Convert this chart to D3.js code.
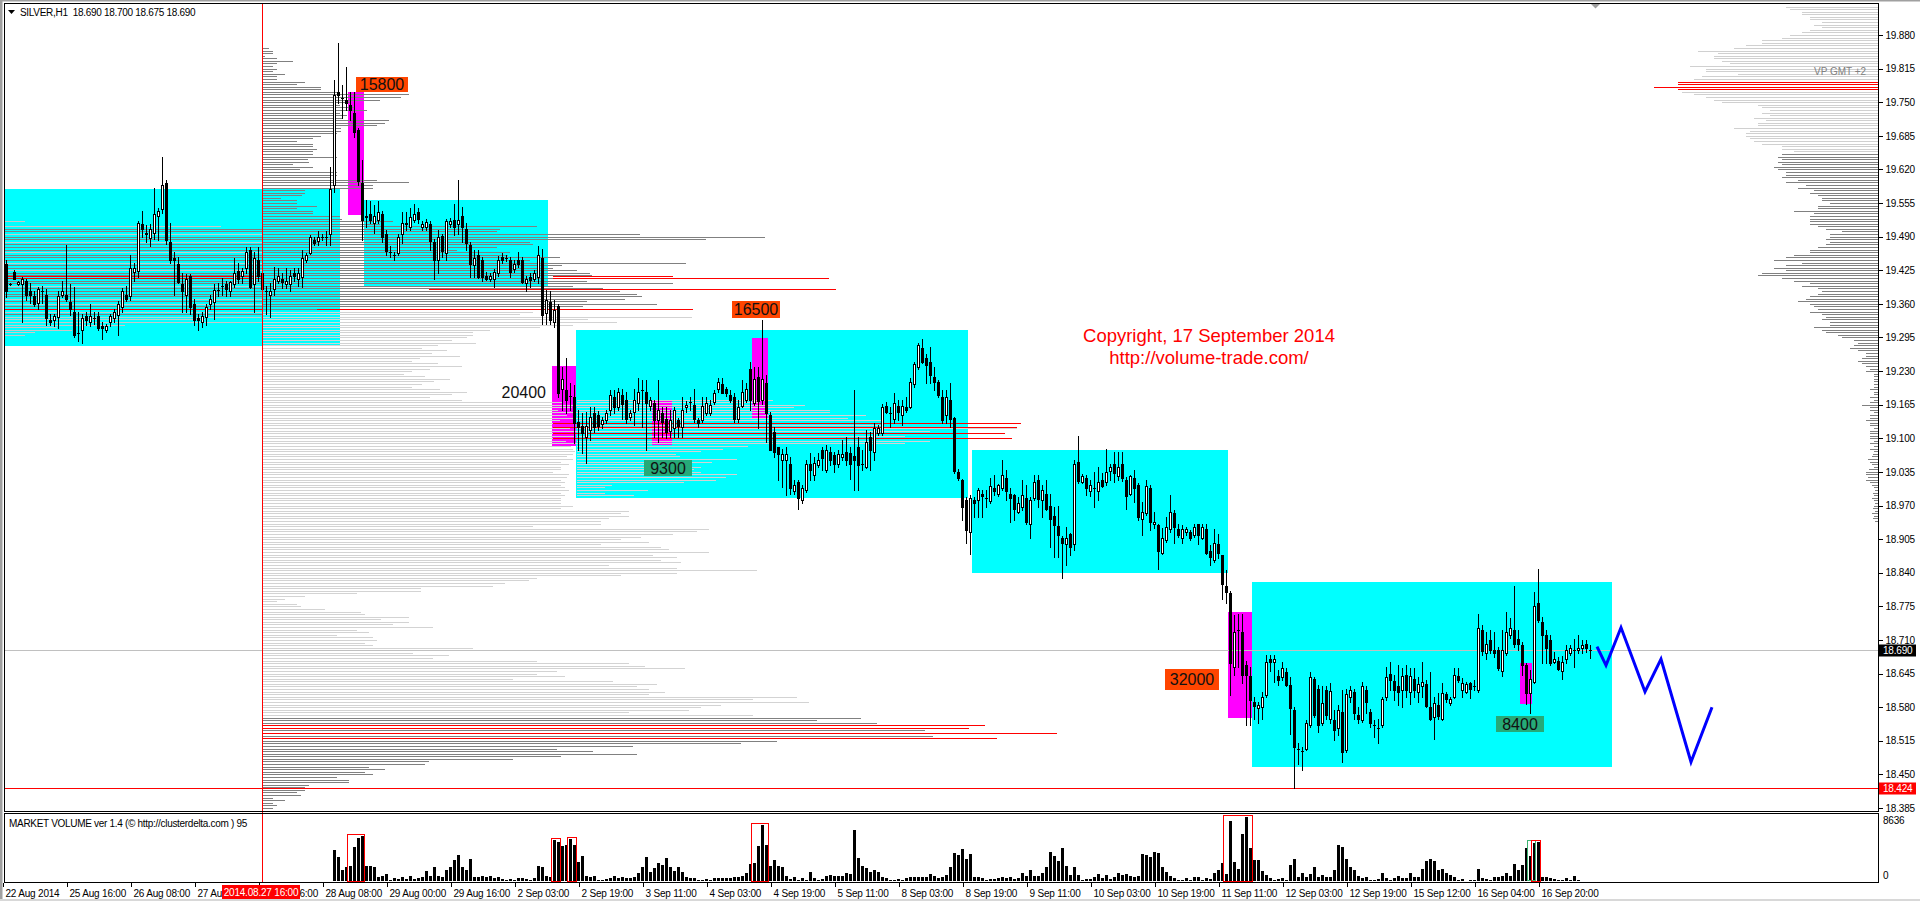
<!DOCTYPE html>
<html><head><meta charset="utf-8">
<script src="https://cdn.jsdelivr.net/npm/d3@7"></script>
<style>
html,body{margin:0;padding:0;background:#fff;overflow:hidden}
svg{display:block}
text{font-family:"Liberation Sans",Arial,sans-serif}
</style></head><body>
<svg id="c" width="1920" height="901"></svg>
<script>
// ---------------- DATA ----------------
const header = "SILVER,H1  18.690 18.700 18.675 18.690";
const indicatorName = "MARKET VOLUME ver 1.4 (\u00A9 http://clusterdelta.com ) 95";
const copyright = ["Copyright, 17 September 2014", "http://volume-trade.com/"];
const markerLabel = "2014.08.27 16:00";
const markerBar = 64;
const supportLevel = 18.424;
const lastPrice = 18.690;
const volMaxLabel = 8636;

// [open, high, low, close] hourly candles
const candles = [
[19.438,19.445,19.374,19.384],[19.398,19.400,19.396,19.398],[19.422,19.425,19.409,19.409],[19.398,19.405,19.396,19.403],
[19.398,19.412,19.324,19.409],[19.404,19.409,19.367,19.378],[19.385,19.400,19.362,19.378],[19.375,19.384,19.355,19.359],
[19.362,19.393,19.350,19.388],[19.384,19.395,19.361,19.384],[19.378,19.388,19.319,19.333],[19.329,19.340,19.320,19.324],
[19.328,19.340,19.318,19.337],[19.335,19.385,19.314,19.375],[19.378,19.404,19.374,19.385],[19.378,19.474,19.365,19.369],
[19.363,19.398,19.339,19.350],[19.344,19.393,19.296,19.299],[19.303,19.344,19.289,19.303],[19.310,19.340,19.284,19.333],
[19.337,19.345,19.320,19.328],[19.325,19.359,19.318,19.337],[19.332,19.345,19.322,19.332],[19.337,19.345,19.310,19.314],
[19.318,19.325,19.293,19.314],[19.310,19.322,19.305,19.318],[19.325,19.340,19.318,19.337],[19.333,19.350,19.325,19.344],
[19.339,19.365,19.299,19.359],[19.353,19.390,19.345,19.385],[19.378,19.395,19.365,19.369],[19.375,19.455,19.368,19.429],
[19.422,19.440,19.405,19.429],[19.424,19.520,19.412,19.517],[19.514,19.540,19.490,19.504],[19.498,19.512,19.480,19.495],
[19.488,19.515,19.472,19.504],[19.498,19.584,19.485,19.533],[19.530,19.545,19.483,19.540],[19.543,19.645,19.535,19.589],
[19.593,19.600,19.475,19.484],[19.479,19.516,19.440,19.444],[19.449,19.460,19.378,19.444],[19.438,19.450,19.400,19.403],
[19.398,19.420,19.344,19.384],[19.378,19.418,19.344,19.409],[19.414,19.418,19.340,19.353],[19.359,19.370,19.320,19.328],
[19.333,19.340,19.310,19.328],[19.325,19.345,19.315,19.337],[19.335,19.360,19.320,19.353],[19.359,19.378,19.350,19.369],
[19.363,19.398,19.330,19.386],[19.386,19.400,19.375,19.386],[19.395,19.410,19.378,19.395],[19.398,19.405,19.375,19.388],
[19.385,19.405,19.375,19.403],[19.398,19.448,19.392,19.419],[19.424,19.440,19.400,19.409],[19.413,19.430,19.400,19.424],
[19.429,19.470,19.420,19.460],[19.464,19.470,19.390,19.393],[19.398,19.460,19.344,19.448],[19.445,19.470,19.405,19.413],
[19.419,19.425,19.344,19.388],[19.384,19.395,19.340,19.384],[19.378,19.400,19.335,19.384],[19.388,19.432,19.378,19.409],
[19.404,19.430,19.400,19.414],[19.409,19.420,19.390,19.403],[19.398,19.430,19.390,19.404],[19.398,19.425,19.385,19.414],
[19.419,19.430,19.405,19.414],[19.409,19.430,19.395,19.419],
[19.412,19.464,19.393,19.448],[19.445,19.458,19.441,19.454],[19.459,19.493,19.456,19.489],[19.483,19.489,19.474,19.478],
[19.482,19.500,19.474,19.489],[19.489,19.495,19.483,19.489],[19.489,19.500,19.474,19.490],[19.495,19.625,19.474,19.583],
[19.590,19.793,19.577,19.764],[19.769,19.864,19.748,19.764],[19.759,19.783,19.719,19.758],[19.754,19.819,19.735,19.748],
[19.745,19.770,19.716,19.734],[19.729,19.770,19.683,19.693],[19.697,19.700,19.590,19.598],[19.593,19.638,19.483,19.522],
[19.529,19.561,19.509,19.528],[19.534,19.558,19.516,19.523],[19.517,19.551,19.498,19.529],[19.523,19.558,19.516,19.538],
[19.534,19.540,19.480,19.490],[19.495,19.503,19.454,19.463],[19.461,19.471,19.451,19.460],[19.455,19.461,19.445,19.454],
[19.459,19.495,19.455,19.489],[19.495,19.538,19.477,19.517],[19.516,19.538,19.503,19.515],[19.508,19.545,19.503,19.528],
[19.523,19.554,19.519,19.534],[19.538,19.545,19.516,19.525],[19.508,19.520,19.503,19.514],[19.509,19.525,19.503,19.519],
[19.514,19.520,19.464,19.482],[19.480,19.485,19.409,19.445],[19.445,19.503,19.420,19.489],[19.491,19.496,19.451,19.463],
[19.459,19.525,19.445,19.521],[19.514,19.527,19.509,19.521],[19.523,19.554,19.493,19.508],[19.514,19.600,19.496,19.523],
[19.529,19.548,19.480,19.509],[19.504,19.516,19.464,19.478],[19.474,19.480,19.412,19.438],[19.435,19.464,19.412,19.448],
[19.454,19.464,19.410,19.412],[19.445,19.450,19.405,19.412],[19.414,19.422,19.406,19.409],[19.409,19.420,19.404,19.414],
[19.409,19.428,19.393,19.422],[19.419,19.452,19.414,19.445],[19.450,19.458,19.440,19.445],[19.448,19.455,19.442,19.448],
[19.445,19.451,19.412,19.422],[19.428,19.445,19.422,19.438],[19.445,19.461,19.432,19.438],[19.445,19.450,19.400,19.403],
[19.400,19.414,19.384,19.409],[19.412,19.419,19.393,19.407],[19.409,19.425,19.404,19.419],[19.412,19.471,19.400,19.454],
[19.448,19.467,19.322,19.338],[19.343,19.387,19.322,19.368],[19.364,19.384,19.322,19.329],[19.325,19.367,19.316,19.349],
[19.355,19.360,19.180,19.187],[19.195,19.238,19.155,19.214],[19.193,19.255,19.148,19.174],[19.182,19.206,19.155,19.182],
[19.179,19.203,19.090,19.129],[19.132,19.155,19.077,19.122],[19.124,19.148,19.071,19.110],[19.103,19.151,19.052,19.124],
[19.117,19.161,19.097,19.142],[19.148,19.161,19.113,19.122],[19.145,19.152,19.116,19.124],[19.127,19.142,19.120,19.136],
[19.135,19.155,19.129,19.148],[19.155,19.193,19.145,19.184],[19.180,19.193,19.148,19.161],[19.161,19.197,19.155,19.190],
[19.184,19.196,19.138,19.167],[19.175,19.190,19.129,19.138],[19.142,19.155,19.135,19.148],[19.151,19.196,19.126,19.174],
[19.169,19.216,19.155,19.190],[19.194,19.213,19.122,19.194],[19.190,19.213,19.077,19.169],[19.162,19.180,19.155,19.174],
[19.169,19.174,19.103,19.135],[19.136,19.213,19.093,19.155],[19.148,19.161,19.103,19.132],[19.138,19.161,19.100,19.113],
[19.114,19.155,19.103,19.135],[19.119,19.161,19.103,19.155],[19.135,19.140,19.103,19.124],[19.121,19.180,19.103,19.155],
[19.160,19.172,19.150,19.164],[19.171,19.180,19.155,19.171],[19.164,19.195,19.132,19.138],[19.135,19.140,19.122,19.129],
[19.135,19.180,19.132,19.163],[19.148,19.180,19.145,19.169],[19.148,19.175,19.145,19.164],[19.171,19.193,19.167,19.188],
[19.195,19.216,19.190,19.209],[19.205,19.216,19.187,19.188],[19.195,19.200,19.182,19.188],[19.184,19.193,19.171,19.174],
[19.180,19.187,19.132,19.138],[19.138,19.174,19.132,19.161],[19.162,19.213,19.161,19.190],[19.174,19.206,19.171,19.195],
[19.235,19.248,19.155,19.174],[19.169,19.238,19.164,19.214],[19.218,19.238,19.119,19.173],[19.174,19.329,19.167,19.214],
[19.206,19.222,19.093,19.148],[19.145,19.151,19.077,19.077],[19.113,19.122,19.064,19.074],[19.084,19.084,19.019,19.069],
[19.059,19.080,19.006,19.069],[19.059,19.084,18.990,19.069],[19.050,19.064,18.993,19.003],[18.998,19.019,18.993,19.009],
[19.016,19.020,18.964,18.984],[18.981,19.009,18.974,19.003],[19.000,19.058,18.996,19.050],[19.050,19.071,19.019,19.038],
[19.029,19.064,19.019,19.053],[19.048,19.071,19.045,19.059],[19.078,19.084,19.038,19.061],[19.039,19.087,19.035,19.078],
[19.074,19.084,19.048,19.058],[19.067,19.074,19.035,19.050],[19.050,19.077,19.045,19.069],[19.063,19.097,19.058,19.069],
[19.074,19.103,19.048,19.059],[19.071,19.084,19.022,19.051],[19.066,19.193,19.000,19.058],[19.084,19.103,19.000,19.048],
[19.050,19.077,19.039,19.050],[19.045,19.116,19.042,19.093],[19.103,19.113,19.039,19.077],[19.074,19.129,19.058,19.119],
[19.110,19.126,19.106,19.119],[19.110,19.167,19.106,19.160],[19.162,19.171,19.148,19.151],[19.148,19.161,19.122,19.148],
[19.138,19.187,19.129,19.169],[19.162,19.174,19.135,19.151],[19.145,19.174,19.126,19.162],[19.161,19.180,19.151,19.155],
[19.160,19.216,19.158,19.209],[19.205,19.248,19.200,19.244],[19.238,19.284,19.235,19.280],[19.274,19.293,19.245,19.248],
[19.255,19.264,19.206,19.242],[19.248,19.277,19.206,19.222],[19.219,19.238,19.193,19.209],[19.209,19.213,19.180,19.184],
[19.179,19.193,19.129,19.135],[19.145,19.193,19.129,19.179],[19.174,19.206,19.122,19.138],
[19.139,19.142,19.032,19.037],[19.035,19.040,19.020,19.024],[19.019,19.022,18.942,18.968],[18.981,18.987,18.897,18.922],
[18.919,18.990,18.877,18.984],[18.981,18.987,18.948,18.974],[18.981,19.003,18.948,19.000],[18.993,19.000,18.948,18.988],
[18.984,19.000,18.968,18.984],[18.979,19.024,18.974,19.008],[19.003,19.029,18.990,18.999],[18.993,19.011,18.988,19.010],
[19.003,19.059,19.000,19.029],[19.024,19.039,18.981,18.999],[18.993,19.003,18.939,18.984],[18.990,18.993,18.942,18.964],
[18.958,18.987,18.955,18.974],[18.968,19.019,18.961,18.990],[18.984,19.010,18.935,18.939],[18.934,18.987,18.908,18.981],
[18.984,19.029,18.981,19.015],[19.019,19.029,18.968,18.982],[18.981,19.010,18.948,19.000],[18.993,19.019,18.961,18.964],
[18.969,18.993,18.889,18.943],[18.950,18.968,18.871,18.932],[18.930,18.969,18.870,18.913],[18.908,18.911,18.829,18.898],
[18.895,18.929,18.855,18.908],[18.915,18.916,18.874,18.889],[18.895,19.058,18.884,19.050],[19.054,19.104,19.014,19.018],
[19.015,19.031,19.013,19.028],[19.024,19.029,18.990,19.003],[18.999,19.019,18.988,19.010],[19.003,19.035,18.968,19.003],
[18.999,19.045,18.981,19.015],[19.019,19.032,19.005,19.008],[19.015,19.079,19.010,19.035],[19.037,19.050,19.019,19.044],
[19.050,19.074,19.016,19.033],[19.028,19.074,19.019,19.044],[19.050,19.074,19.018,19.024],[19.019,19.026,18.964,18.989],
[18.993,19.029,18.990,19.028],[19.024,19.039,18.977,19.003],[19.010,19.013,18.942,18.948],[18.943,18.977,18.913,18.958],
[18.955,19.019,18.951,19.008],[19.003,19.010,18.922,18.939],[18.934,18.958,18.926,18.939],[18.933,18.934,18.848,18.882],
[18.879,18.926,18.877,18.908],[18.904,18.948,18.900,18.929],[18.924,18.990,18.919,18.958],[18.955,18.961,18.898,18.929],
[18.924,18.934,18.910,18.913],[18.908,18.932,18.898,18.924],[18.919,18.928,18.913,18.924],[18.919,18.922,18.904,18.908],
[18.913,18.934,18.910,18.929],[18.934,18.934,18.895,18.913],[18.908,18.934,18.906,18.929],[18.924,18.934,18.877,18.879],
[18.882,18.893,18.855,18.870],[18.864,18.924,18.861,18.898],[18.895,18.915,18.868,18.879],
[18.874,18.874,18.790,18.819],[18.814,18.845,18.781,18.803],[18.801,18.805,18.603,18.665],[18.658,18.758,18.642,18.726],
[18.729,18.761,18.658,18.729],[18.726,18.760,18.626,18.642],[18.661,18.670,18.545,18.642],[18.640,18.658,18.545,18.594],
[18.590,18.600,18.558,18.582],[18.579,18.590,18.549,18.584],[18.581,18.610,18.558,18.600],[18.603,18.681,18.600,18.668],
[18.674,18.681,18.649,18.668],[18.668,18.681,18.629,18.674],[18.640,18.652,18.623,18.632],[18.639,18.668,18.632,18.655],
[18.648,18.655,18.620,18.623],[18.623,18.639,18.529,18.579],[18.574,18.581,18.423,18.503],[18.500,18.510,18.471,18.500],
[18.495,18.503,18.458,18.495],[18.500,18.555,18.497,18.549],[18.545,18.648,18.542,18.639],[18.634,18.639,18.561,18.565],
[18.616,18.623,18.532,18.545],[18.550,18.620,18.545,18.589],[18.614,18.620,18.558,18.565],[18.558,18.626,18.549,18.612],
[18.555,18.574,18.516,18.536],[18.539,18.584,18.526,18.574],[18.571,18.613,18.474,18.494],[18.497,18.616,18.494,18.605],
[18.600,18.620,18.590,18.614],[18.610,18.616,18.558,18.568],[18.565,18.581,18.549,18.558],[18.555,18.629,18.552,18.620],
[18.614,18.621,18.568,18.590],[18.571,18.577,18.542,18.549],[18.545,18.555,18.523,18.545],[18.539,18.558,18.510,18.539],
[18.545,18.600,18.542,18.595],[18.600,18.658,18.594,18.639],[18.644,18.668,18.613,18.632],[18.630,18.642,18.594,18.613],
[18.621,18.661,18.584,18.610],[18.614,18.655,18.581,18.640],[18.642,18.661,18.600,18.614],[18.610,18.655,18.587,18.640],
[18.635,18.655,18.600,18.614],[18.610,18.639,18.590,18.625],[18.620,18.668,18.600,18.629],[18.625,18.632,18.581,18.582],
[18.581,18.648,18.555,18.558],[18.561,18.600,18.519,18.589],[18.584,18.607,18.558,18.563],[18.558,18.626,18.555,18.608],
[18.605,18.610,18.590,18.595],[18.589,18.600,18.584,18.595],[18.599,18.655,18.597,18.643],[18.640,18.655,18.629,18.632],
[18.613,18.636,18.600,18.627],[18.610,18.629,18.607,18.625],[18.626,18.629,18.597,18.616],[18.621,18.632,18.613,18.621],
[18.614,18.760,18.610,18.734],[18.729,18.739,18.681,18.689],[18.684,18.726,18.674,18.703],[18.710,18.729,18.684,18.690],
[18.690,18.726,18.678,18.684],[18.690,18.697,18.652,18.655],[18.649,18.729,18.640,18.690],[18.684,18.765,18.681,18.726],
[18.719,18.752,18.713,18.734],[18.729,18.814,18.697,18.703],[18.711,18.729,18.690,18.703],[18.700,18.707,18.642,18.661],
[18.661,18.665,18.587,18.608],[18.607,18.652,18.569,18.634],[18.629,18.803,18.626,18.776],[18.781,18.848,18.745,18.749],
[18.745,18.755,18.665,18.719],[18.719,18.729,18.665,18.694],[18.710,18.719,18.661,18.665],[18.668,18.687,18.665,18.674],
[18.670,18.678,18.652,18.653],[18.650,18.679,18.634,18.668],[18.674,18.700,18.666,18.690],[18.684,18.700,18.681,18.694],
[18.690,18.711,18.658,18.690],[18.690,18.719,18.684,18.694],[18.694,18.710,18.684,18.700],[18.703,18.710,18.687,18.694],
[18.690,18.700,18.675,18.690]
];

// Market volume histogram (starts at bar volStart)
const volStart = 82;
const volumes = [
4185,3195,1485,1935,2025,4545,5760,6075,2025,2025,1845,495,675,945,135,360,270,585,225,675,
270,360,585,1350,675,1845,675,495,1485,1845,2835,3510,1935,1485,2925,495,585,675,495,675,
360,495,225,135,225,135,360,450,270,135,450,2070,1845,675,495,5535,5310,4725,4860,
5625,4860,2610,3375,675,495,675,135,135,225,360,675,360,585,360,450,585,1035,1935,3195,
1260,1710,2385,2160,3060,1845,1395,1935,1260,495,360,450,135,135,225,135,450,360,450,360,
360,495,585,675,1035,2295,2385,4725,7560,4815,2025,2835,2025,1845,675,225,495,135,450,135,
1260,450,135,225,675,810,675,675,675,1125,945,6885,3060,2025,1710,1260,1485,1260,495,360,
135,135,225,135,360,495,585,495,585,495,945,675,360,585,810,1935,3735,3510,
4275,2925,3645,495,585,360,135,225,225,360,585,360,585,270,360,1035,675,1485,675,675,
1035,1845,3960,3375,2745,4410,2025,810,1935,810,135,225,225,585,945,360,810,225,495,1035,
810,945,675,495,675,3645,3510,3285,3960,3825,1845,1260,675,360,135,135,360,135,495,495,
135,360,225,1035,1485,2385,900,8145,2610,1575,6345,8636,4410,2835,2835,1395,810,360,135,270,
450,135,2160,2970,585,1035,495,945,1935,495,810,495,585,1485,4860,4545,2925,1935,1485,675,
360,495,135,135,225,1035,360,135,360,675,360,360,1035,495,585,1575,2745,2925,2700,1485,
1575,1125,810,495,135,225,45,135,135,1620,360,270,135,495,585,675,1125,675,2295,
1485,2160,4500,3420,5085,5310,495,495,360,225,135,135,360,135,675,135,45,45,45,45
];

const priceTicks = [18.385,18.450,18.515,18.580,18.645,18.710,18.775,18.840,18.905,18.970,19.035,19.100,
19.165,19.230,19.295,19.360,19.425,19.490,19.555,19.620,19.685,19.750,19.815,19.880];

const timeLabels = ["22 Aug 2014","25 Aug 16:00","26 Aug 08:00","27 Aug 00:00","27 Aug 16:00","28 Aug 08:00",
"29 Aug 00:00","29 Aug 16:00","2 Sep 03:00","2 Sep 19:00","3 Sep 11:00","4 Sep 03:00","4 Sep 19:00",
"5 Sep 11:00","8 Sep 03:00","8 Sep 19:00","9 Sep 11:00","10 Sep 03:00","10 Sep 19:00","11 Sep 11:00",
"12 Sep 03:00","12 Sep 19:00","15 Sep 12:00","16 Sep 04:00","16 Sep 20:00"];
const timeBars = [0,16,32,48,64,80,96,112,128,144,160,176,192,208,224,240,256,272,288,304,320,336,352,368,384];

// consolidation ranges: [firstBar, lastBar, low, high]
const boxes = [[0,83,19.278,19.582],[90,135,19.394,19.561],[143,240,18.985,19.309],[242,305,18.840,19.077],[312,401,18.465,18.822]];

// volume clusters
const clusterLabels = ["15800","20400","9300","16500","32000","8400"];
const clusterBars = [[86,89],[137,142],[162,166],[187,190],[306,311],[379,381]];
const clusterRanges = [[19.532,19.769],[19.085,19.240],[19.087,19.172],[19.139,19.294],[18.560,18.765],[18.586,18.665]];
const volHighlights = [[86,89],[137,138],[141,142],[187,190],[305,311],[382,383]];
const volHighlightGreen = [[381,382]];

// volume profiles (levels every 0.005 from the top price downward)
const profileStep = 0.005;
const compositeBar = 64, compositeTop = 19.855;
const compositeVols = [
7,11,11,3,15,31,15,11,15,11,23,15,15,43,35,59,59,75,147,139,
118,88,78,93,105,78,85,80,127,123,115,79,79,75,59,51,35,51,51,55,
51,51,75,46,47,31,51,38,75,75,68,115,147,111,111,43,43,40,19,35,
35,55,35,51,51,78,80,131,118,275,238,235,378,503,444,268,271,235,195,248,
246,298,268,424,300,291,315,328,330,328,325,411,311,341,358,375,380,363,325,395,
321,311,271,258,430,326,355,311,278,228,211,211,
205,190,214,176,160,185,170,198,158,150,176,200,168,150,142,163,188,172,160,150,178,205,190,168,200,
300,322,310,296,318,305,330,298,315,290,308,322,300,312,326,304,318,309,
311,313,311,305,311,299,307,299,299,291,307,305,299,303,299,303,307,299,303,299,299,299,311,299,
367,359,367,347,339,339,271,447,435,411,379,359,387,339,399,407,447,391,415,399,419,347,415,495,415,359,
275,267,243,231,159,159,95,43,23,15,35,39,63,99,103,147,119,147,131,171,95,107,75,111,115,103,111,211,171,151,
187,171,275,367,383,423,295,275,303,251,351,395,375,387,403,387,535,491,547,459,439,427,367,491,
599,555,615,723,707,663,795,671,735,515,479,371,295,331,375,299,251,167,163,107,123,103,111,75,87,87,47,43,43,35,39,11,23,11,15,11
];
const box1Bar = -0.25, box1Top = 19.520;
const box1Vols = [20,0,216,265,270,258,262,275,260,268,280,265,258,270,262,285,260,266,272,258,264,290,300,275,262,
258,270,265,285,262,258,268,260,262,270,258,262,256,200,258,120,52,67,30,20];
const box3Bar = 142.75, box3Top = 19.175;
const box3Vols = [196,182,228,217,253,253,289,271,307,444,307,440,353,428,328,435,353,328,171,146,124,99,103,160,
135,99,124,117,124,160,149,139,107,35,28,71,28,57];
const rightBar = 468, rightTop = 19.935;
const rightVols = [
92,88,76,76,68,68,56,64,56,68,76,88,96,116,116,132,144,180,160,164,164,156,148,188,172,172,140,176,184,
200,200,224,200,196,184,172,164,156,120,116,108,116,108,124,112,120,120,144,128,132,132,128,124,116,96,96,84,
96,100,96,100,96,104,100,92,92,96,80,92,72,80,64,68,60,56,56,48,60,60,84,64,68,68,68,68,60,52,
36,48,48,52,48,52,60,68,68,84,92,104,76,92,104,92,116,120,96,84,68,76,60,56,60,68,72,80,68,64,
60,68,56,52,56,48,48,64,56,52,40,36,24,20,24,28,20,12,12,16,20,16,12,8,12,4,4,4,4,4,4,
8,4,4,8,4,8,16,8,8,4,8,8,12,8,8,4,8,8,8,8,4,8,4,8,4,
5,6,10,8,6,4,9,12,12,10,12,8,6,4,3,5,4,6,4,3,4,5,3,6,4,5,3
];
// point-of-control lines: [price, fromBar, toBar]
const pocLines = [[19.413,-0.25,64],[19.410,-0.25,64],[19.350,-0.25,64],[19.413,136.75,166.75],[19.410,136.75,205.75],
[19.388,105.75,207.5],[19.350,77.75,171.75],[19.129,136.75,253.75],[19.121,136.75,252.75],[19.110,136.75,249.75],[19.100,136.75,251.5]];

// forecast zigzag [bar, price]
const forecast = [[397.75,18.697],[400,18.661],[403.75,18.734],[409.75,18.610],[413.75,18.673],[421.25,18.474],[426.5,18.580]];

// ---------------- CHART ----------------
const svg = d3.select("#c");
const PL = 4, PR = 1878, PT = 3, PB = 811, VT = 813, VB = 882;
const x = d3.scaleLinear().domain([0, 468]).range([6, 1878]);
const y = d3.scaleLinear().domain([18.385, 19.880]).range([808, 35]);
const yv = d3.scaleLinear().domain([0, volMaxLabel]).range([881, 817]);
const plen = d3.scaleLinear().domain([0, 1]).range([0, 1]);
const px = v => Math.round(x(v));
const py = v => Math.round(y(v));

svg.append("rect").attr("width",1920).attr("height",901).attr("fill","#fff");
// window border
svg.append("rect").attr("x",0).attr("y",0).attr("width",2.5).attr("height",901).attr("fill","#a0a0a0");
svg.append("rect").attr("x",0).attr("y",0).attr("width",1920).attr("height",1.5).attr("fill","#a0a0a0");
svg.append("rect").attr("x",0).attr("y",899).attr("width",1920).attr("height",2).attr("fill","#d8d8d8");

const defs = svg.append("defs");
defs.append("clipPath").attr("id","mainclip").append("rect").attr("x",PL+1).attr("y",PT+1).attr("width",PR-PL-1).attr("height",PB-PT-1);
defs.append("clipPath").attr("id","volclip").append("rect").attr("x",PL+1).attr("y",VT+1).attr("width",PR-PL-1).attr("height",VB-VT-1);
defs.append("clipPath").attr("id","leftOfMarker").append("rect").attr("x",0).attr("y",880).attr("width",222).attr("height",21);

const main = svg.append("g").attr("clip-path","url(#mainclip)").attr("shape-rendering","crispEdges");

// cyan boxes
main.selectAll("rect.box").data(boxes).join("rect").attr("class","box")
  .attr("x",d=>px(d[0])-2).attr("width",d=>px(d[1])-px(d[0])+4)
  .attr("y",d=>py(d[3])).attr("height",d=>py(d[2])-py(d[3])).attr("fill","#00ffff");

// magenta cluster rects
main.selectAll("rect.cl").data(clusterBars).join("rect").attr("class","cl")
  .attr("x",d=>px(d[0])-2).attr("width",d=>px(d[1])-px(d[0])+4)
  .attr("y",(d,i)=>py(clusterRanges[i][1])).attr("height",(d,i)=>py(clusterRanges[i][0])-py(clusterRanges[i][1]))
  .attr("fill","#ff00ff");

// profiles
function drawProfile(bar, top, vols, dir, colorFn){
  const g = main.append("g");
  const x0 = x(bar);
  vols.forEach((v,k)=>{
    if(v<=0) return;
    const p = top - k*profileStep;
    const yy = py(p)+0.5;
    const x1 = x0 + dir*plen(v);
    g.append("line").attr("x1",Math.round(x0)).attr("x2",Math.round(x1)).attr("y1",yy).attr("y2",yy)
     .attr("stroke",colorFn(v,p)).attr("stroke-width",1);
  });
}
drawProfile(box1Bar, box1Top, box1Vols, 1, v => v>=262 ? "#808080" : "#c8c8c8");
drawProfile(compositeBar, compositeTop, compositeVols, 1, (v,p) => v>=700 ? "#ff0000" : ((p>=19.35 || p<=18.562) ? "#808080" : "#d3d3d3"));
drawProfile(box3Bar, box3Top, box3Vols, 1, () => "#d3d3d3");
drawProfile(rightBar, rightTop, rightVols, -1, (v,p) => v>=200 ? "#ff0000" : (p>=19.652 ? "#d0d0d0" : "#808080"));

// POC lines
main.selectAll("line.poc").data(pocLines).join("line").attr("class","poc")
  .attr("x1",d=>px(d[1])).attr("x2",d=>px(d[2])).attr("y1",d=>py(d[0])+0.5).attr("y2",d=>py(d[0])+0.5)
  .attr("stroke","#ff0000");

// last price line & support line
main.append("line").attr("x1",PL).attr("x2",PR).attr("y1",py(lastPrice)+0.5).attr("y2",py(lastPrice)+0.5).attr("stroke","#c0c0c0");
main.append("line").attr("x1",PL).attr("x2",PR).attr("y1",py(supportLevel)+0.5).attr("y2",py(supportLevel)+0.5).attr("stroke","#ff0000");

// candles
const cg = main.append("g");
candles.forEach((d,i)=>{
  const [o,h,l,c] = d;
  const cx = px(i);
  cg.append("line").attr("x1",cx+0.5).attr("x2",cx+0.5).attr("y1",py(h)).attr("y2",py(l)+1).attr("stroke","#000");
  const yt = py(Math.max(o,c)), yb = py(Math.min(o,c));
  if(yb-yt < 1){
    cg.append("line").attr("x1",cx-1).attr("x2",cx+2).attr("y1",yt+0.5).attr("y2",yt+0.5).attr("stroke","#000");
  } else {
    cg.append("rect").attr("x",cx-0.5).attr("y",yt+0.5).attr("width",2).attr("height",yb-yt)
      .attr("fill", c>o ? "#fff" : "#000").attr("stroke","#000");
  }
});

// red vertical marker line
svg.append("line").attr("x1",px(markerBar)+0.5).attr("x2",px(markerBar)+0.5).attr("y1",PT).attr("y2",VB)
  .attr("stroke","#ff0000").attr("shape-rendering","crispEdges");

// forecast zigzag
main.append("path").datum(forecast).attr("d",d3.line().x(d=>x(d[0])).y(d=>y(d[1])))
  .attr("fill","none").attr("stroke","#0000ff").attr("stroke-width",3).attr("shape-rendering","auto");

// cluster labels
const lab = svg.append("g");
function boxLabel(txt, cx, cyTop, w, h, fill){
  lab.append("rect").attr("x",Math.round(cx-w/2)).attr("y",Math.round(cyTop)).attr("width",w).attr("height",h).attr("fill",fill);
  lab.append("text").attr("x",cx).attr("y",cyTop+h/2+5.8).attr("text-anchor","middle")
    .attr("font-size",16).attr("fill","#111").text(txt);
}
clusterBars.forEach((b,i)=>{
  const xr0 = px(b[0])-2, xr1 = px(b[1])+2, xc=(xr0+xr1)/2;
  const [lo,hi] = clusterRanges[i];
  const maxH = d3.max(candles.slice(b[0],b[1]+1), d=>d[1]);
  const t = clusterLabels[i];
  if(i===0) boxLabel(t, xr0+8+26, y(maxH)-15, 52, 15, "#ff4500");
  else if(i===1) lab.append("text").attr("x",xr0-6).attr("y",y(hi)+32).attr("text-anchor","end").attr("font-size",16).attr("fill","#111").text(t);
  else if(i===2) boxLabel(t, xc+6, y(lo)+15, 48, 16, "#26aa78");
  else if(i===3) boxLabel(t, xc-4, y(maxH)-19, 48, 17, "#ff4500");
  else if(i===4) boxLabel(t, xr0-9-27, (y(lo)+y(hi))/2+4, 54, 21, "#ff4500");
  else boxLabel(t, xc-6, y(lo)+12, 48, 16, "#26aa78");
});

// copyright
lab.append("text").attr("x",1209).attr("y",342).attr("text-anchor","middle").attr("font-size",18.5).attr("fill","#ff0000").text(copyright[0]);
lab.append("text").attr("x",1209).attr("y",364).attr("text-anchor","middle").attr("font-size",18.5).attr("fill","#ff0000").text(copyright[1]);

// volume pane
const vg = svg.append("g").attr("clip-path","url(#volclip)").attr("shape-rendering","crispEdges");
vg.selectAll("rect.v").data(volumes).join("rect").attr("class","v")
  .attr("x",(d,k)=>px(volStart+k)-1).attr("width",3)
  .attr("y",d=>Math.round(yv(d))).attr("height",d=>881-Math.round(yv(d))).attr("fill","#000");
function volTop(a,b){ let m=0; for(let i=a;i<=b;i++){const k=i-volStart; if(k>=0&&k<volumes.length) m=Math.max(m,volumes[k]);} return Math.round(yv(m)); }
vg.selectAll("rect.vg").data(volHighlightGreen).join("rect").attr("class","vg")
  .attr("x",d=>px(d[0])-2.5).attr("width",d=>px(d[1])-px(d[0])+4).attr("y",d=>volTop(d[0],d[1])-2.5)
  .attr("height",d=>881-volTop(d[0],d[1])+2).attr("fill","none").attr("stroke","#3cb371");
vg.selectAll("rect.vh").data(volHighlights).join("rect").attr("class","vh")
  .attr("x",d=>px(d[0])-2.5).attr("width",d=>px(d[1])-px(d[0])+5).attr("y",d=>volTop(d[0],d[1])-1.5)
  .attr("height",d=>881-volTop(d[0],d[1])+2).attr("fill","none").attr("stroke","#ff0000");

// frames
const fr = svg.append("g").attr("shape-rendering","crispEdges").attr("fill","none").attr("stroke","#000");
fr.append("rect").attr("x",PL+0.5).attr("y",PT+0.5).attr("width",PR-PL).attr("height",PB-PT);
fr.append("rect").attr("x",PL+0.5).attr("y",VT+0.5).attr("width",PR-PL).attr("height",VB-VT);

// price axis
const ax = svg.append("g").attr("transform",`translate(${PR+0.5},0)`).attr("shape-rendering","crispEdges")
  .call(d3.axisRight(y).tickValues(priceTicks).tickSize(4).tickPadding(3).tickFormat(d3.format(".3f")));
ax.select(".domain").remove();
ax.selectAll(".tick line").attr("stroke","#000");
ax.selectAll(".tick text").attr("font-family","Liberation Sans, Arial, sans-serif").attr("font-size",10).attr("letter-spacing","-0.2").attr("fill","#000");

function axisTag(val, bg){
  const yy = y(val);
  svg.append("rect").attr("x",PR+1).attr("y",Math.round(yy)-5.5).attr("width",37).attr("height",12).attr("fill",bg);
  svg.append("text").attr("x",PR+5).attr("y",yy+4).attr("font-size",10).attr("letter-spacing","-0.2").attr("fill","#fff").text(d3.format(".3f")(val));
}
axisTag(lastPrice, "#000");
axisTag(supportLevel, "#ff0000");

// volume axis labels
svg.append("text").attr("x",PR+5).attr("y",823.5).attr("font-size",10).attr("letter-spacing","-0.2").text(volMaxLabel);
svg.append("text").attr("x",PR+5).attr("y",878.5).attr("font-size",10).text(0);

// time axis
const tx = svg.append("g").attr("transform",`translate(0,${VB+0.5})`).attr("shape-rendering","crispEdges")
  .call(d3.axisBottom(x).tickValues(timeBars).tickSize(4).tickFormat((d,i)=>timeLabels[i]));
tx.select(".domain").remove();
tx.selectAll(".tick line").attr("stroke","#000").attr("transform","translate(-3,0)");
tx.selectAll(".tick text").attr("text-anchor","start").attr("x",-1).attr("y",7)
  .attr("font-family","Liberation Sans, Arial, sans-serif").attr("font-size",10).attr("letter-spacing","-0.2").attr("fill","#000");
// marker date tag (covers the label of the marker bar as in the terminal)
svg.append("rect").attr("x",px(markerBar)-40).attr("y",885).attr("width",78).attr("height",14).attr("fill","#ff0000");
svg.append("text").attr("x",px(markerBar)-1).attr("y",896).attr("text-anchor","middle").attr("font-size",10).attr("letter-spacing","-0.2").attr("fill","#fff").text(markerLabel);

// header texts
svg.append("path").attr("d","M8,10 L15,10 L11.5,14 Z").attr("fill","#000");
svg.append("text").attr("x",20).attr("y",15.5).attr("font-size",10).attr("letter-spacing","-0.3").style("white-space","pre").text(header);
svg.append("text").attr("x",9).attr("y",826.5).attr("font-size",10).attr("letter-spacing","-0.3").text(indicatorName);
svg.append("text").attr("x",PR-64).attr("y",75).attr("font-size",10).attr("fill","#808080").text("VP GMT +2");
svg.append("path").attr("d","M1591,4 L1600,4 L1595.5,8.5 Z").attr("fill","#a0a0a0");
</script>
</body></html>
